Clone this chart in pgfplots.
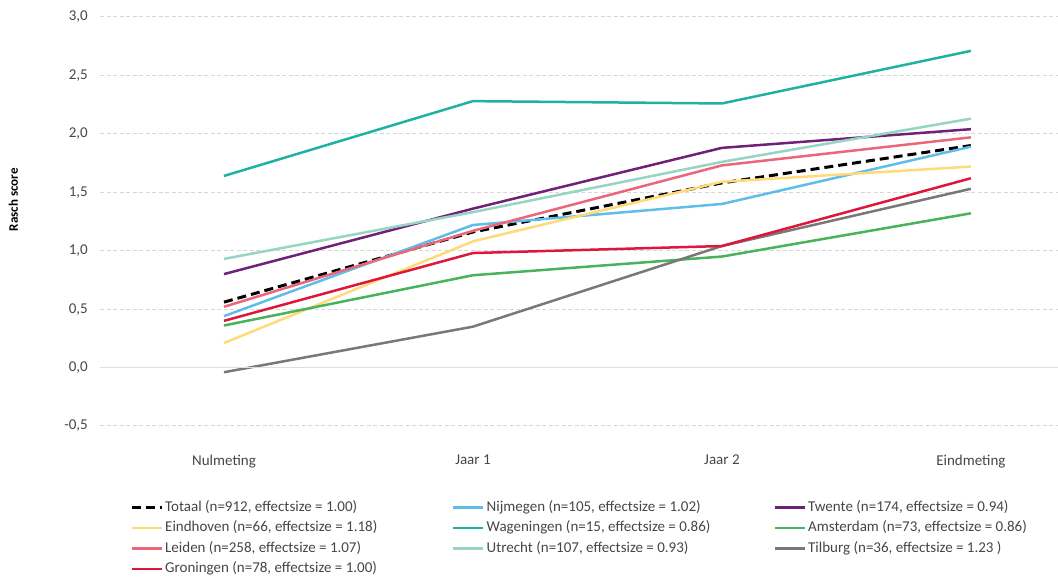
\documentclass[border=0pt]{standalone}
\usepackage{pgfplots}
\pgfplotsset{compat=1.18}
\usepackage{fontspec}
\setmainfont{Carlito}
\definecolor{cNij}{RGB}{95,190,232}
\definecolor{cTwe}{RGB}{112,32,120}
\definecolor{cEin}{RGB}{255,218,120}
\definecolor{cWag}{RGB}{32,178,160}
\definecolor{cAms}{RGB}{72,178,92}
\definecolor{cLei}{RGB}{236,102,122}
\definecolor{cUtr}{RGB}{150,212,196}
\definecolor{cTil}{RGB}{120,120,120}
\definecolor{cGro}{RGB}{222,22,60}
\definecolor{gridc}{RGB}{215,215,215}
\definecolor{txt}{RGB}{70,70,70}
\newcommand{\legw}[1]{\makebox[285pt][l]{#1}}
\begin{document}
\begin{tikzpicture}
\path[use as bounding box] (0,0) rectangle (1058pt,580pt);
\begin{axis}[
  at={(100pt,154pt)}, anchor=south west,
  scale only axis, width=958pt, height=409pt,
  xmin=-0.498, xmax=3.35, ymin=-0.5, ymax=3,
  xtick={0,1,2,3},
  xticklabels={Nulmeting,Jaar 1,Jaar 2,Eindmeting},
  ytick={-0.5,0,0.5,1,1.5,2,2.5,3},
  /pgf/number format/.cd, use comma, fixed, fixed zerofill, precision=1, assume math mode=true,
  /pgfplots/.cd,
  axis line style={draw=none},
  major tick length=0pt,
  ymajorgrids,
  grid style={gridc, dash pattern=on 4pt off 2.5pt, line width=1pt},
  tick label style={font=\fontsize{15}{18}\selectfont, text=txt},
  yticklabel style={inner sep=0pt, xshift=-12pt},
  xticklabel style={inner sep=0pt, yshift=-29pt},
  ylabel={\textbf{Rasch score}},
  ylabel style={font=\fontsize{13}{15}\selectfont, text=black, at={(axis description cs:-0.0905,0.553)}, anchor=center},
  legend columns=3,
  legend cell align=left,
  legend style={at={(axis description cs:0.0313,-0.182)}, anchor=north west, draw=none, inner sep=0pt,
    font=\fontsize{15}{18}\selectfont, text=txt,
    nodes={inner xsep=2pt, inner ysep=0pt, text height=10.5pt, text depth=3pt},
    row sep=7pt, column sep=0pt},
  legend image code/.code={\draw[#1] (0pt,0pt) -- (30pt,0pt);},
  every axis plot/.append style={line width=2.5pt, line join=round},
]
\addplot[black, line width=3pt, dash pattern=on 9pt off 5pt] coordinates {(0,0.56) (1,1.16) (2,1.58) (3,1.90)};
\addlegendentry{\legw{Totaal (n=912, effectsize = 1.00)}}
\addplot[cNij] coordinates {(0,0.44) (1,1.22) (2,1.40) (3,1.89)};
\addlegendentry{\legw{Nijmegen (n=105, effectsize = 1.02)}}
\addplot[cTwe] coordinates {(0,0.80) (1,1.36) (2,1.88) (3,2.04)};
\addlegendentry{Twente (n=174, effectsize = 0.94)}
\addplot[cEin] coordinates {(0,0.21) (1,1.08) (2,1.59) (3,1.72)};
\addlegendentry{\legw{Eindhoven (n=66, effectsize = 1.18)}}
\addplot[cWag] coordinates {(0,1.64) (1,2.28) (2,2.26) (3,2.71)};
\addlegendentry{\legw{Wageningen (n=15, effectsize = 0.86)}}
\addplot[cAms] coordinates {(0,0.36) (1,0.79) (2,0.95) (3,1.32)};
\addlegendentry{Amsterdam (n=73, effectsize = 0.86)}
\addplot[cLei] coordinates {(0,0.52) (1,1.17) (2,1.73) (3,1.97)};
\addlegendentry{\legw{Leiden (n=258, effectsize = 1.07)}}
\addplot[cUtr] coordinates {(0,0.93) (1,1.33) (2,1.76) (3,2.13)};
\addlegendentry{\legw{Utrecht (n=107, effectsize = 0.93)}}
\addplot[cTil] coordinates {(0,-0.04) (1,0.35) (2,1.04) (3,1.53)};
\addlegendentry{Tilburg (n=36, effectsize = 1.23 )}
\addplot[cGro] coordinates {(0,0.40) (1,0.98) (2,1.04) (3,1.62)};
\addlegendentry{\legw{Groningen (n=78, effectsize = 1.00)}}
\draw[color={rgb,255:red,215;green,225;blue,235}, line width=1pt] (axis cs:-0.498,0) -- (axis cs:3.35,0);
\end{axis}
\end{tikzpicture}
\end{document}
